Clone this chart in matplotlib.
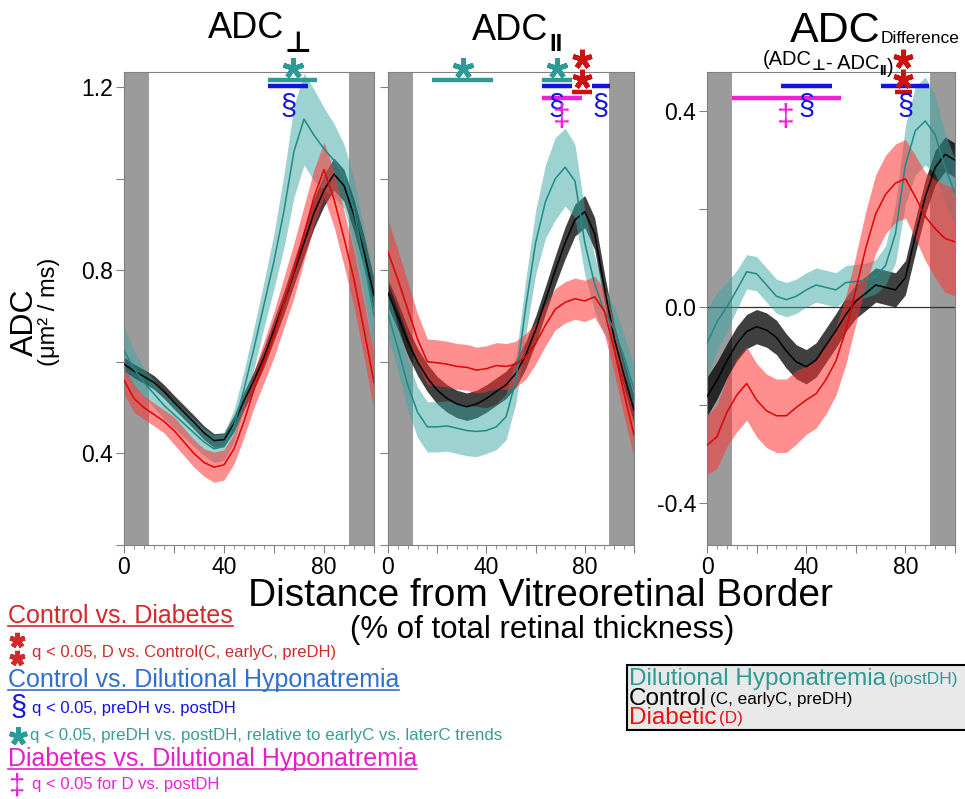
import numpy as np
import matplotlib.pyplot as plt
from matplotlib.ticker import FixedLocator, MultipleLocator, FuncFormatter
from matplotlib.transforms import blended_transform_factory
from matplotlib.lines import Line2D
from matplotlib.patches import Rectangle

plt.rcParams['font.family'] = ['Liberation Sans', 'DejaVu Sans']
plt.rcParams['axes.unicode_minus'] = False

# ---- data ----
depth = np.arange(0, 101, 4)

perp_control = [0.595, 0.580, 0.568, 0.555, 0.535, 0.512, 0.490, 0.468, 0.445, 0.428, 0.430, 0.465, 0.515,
                0.560, 0.610, 0.670, 0.730, 0.795, 0.860, 0.925, 0.975, 1.010, 0.985, 0.920, 0.840, 0.745]
perp_control_err = [0.015, 0.015, 0.015, 0.015, 0.015, 0.015, 0.015, 0.015, 0.015, 0.015, 0.015, 0.018, 0.020,
                    0.020, 0.022, 0.024, 0.025, 0.027, 0.030, 0.033, 0.035, 0.035, 0.035, 0.035, 0.035, 0.035]
perp_postdh = [0.625, 0.585, 0.555, 0.530, 0.505, 0.485, 0.465, 0.445, 0.425, 0.410, 0.415, 0.460, 0.540,
               0.630, 0.725, 0.820, 0.930, 1.060, 1.130, 1.095, 1.065, 1.040, 1.005, 0.930, 0.820, 0.700]
perp_postdh_err = [0.050, 0.040, 0.030, 0.030, 0.030, 0.030, 0.030, 0.030, 0.030, 0.030, 0.030, 0.035, 0.040,
                   0.045, 0.050, 0.060, 0.080, 0.100, 0.100, 0.100, 0.090, 0.080, 0.070, 0.070, 0.070, 0.080]
perp_diab = [0.560, 0.520, 0.500, 0.485, 0.470, 0.450, 0.425, 0.400, 0.380, 0.370, 0.375, 0.410, 0.470,
             0.540, 0.600, 0.660, 0.730, 0.800, 0.880, 0.960, 1.020, 0.955, 0.870, 0.780, 0.670, 0.555]
perp_diab_err = [0.030, 0.030, 0.025, 0.025, 0.025, 0.030, 0.030, 0.030, 0.030, 0.033, 0.033, 0.033, 0.035,
                 0.040, 0.045, 0.050, 0.055, 0.060, 0.060, 0.060, 0.060, 0.060, 0.060, 0.060, 0.060, 0.060]

par_control = [0.750, 0.700, 0.645, 0.600, 0.565, 0.538, 0.520, 0.508, 0.502, 0.508, 0.520, 0.535, 0.550,
               0.575, 0.615, 0.670, 0.735, 0.800, 0.860, 0.910, 0.928, 0.880, 0.760, 0.650, 0.570, 0.495]
par_control_err = [0.030, 0.030, 0.030, 0.030, 0.030, 0.030, 0.030, 0.030, 0.030, 0.030, 0.030, 0.030, 0.030,
                   0.030, 0.030, 0.030, 0.030, 0.032, 0.035, 0.035, 0.035, 0.035, 0.032, 0.030, 0.030, 0.030]
par_postdh = [0.705, 0.630, 0.550, 0.490, 0.458, 0.458, 0.460, 0.455, 0.450, 0.448, 0.450, 0.458, 0.480,
              0.560, 0.720, 0.860, 0.950, 1.000, 1.025, 0.995, 0.860, 0.770, 0.710, 0.670, 0.610, 0.540]
par_postdh_err = [0.050, 0.050, 0.055, 0.055, 0.055, 0.055, 0.055, 0.055, 0.055, 0.055, 0.050, 0.050, 0.050,
                  0.050, 0.060, 0.070, 0.080, 0.090, 0.085, 0.080, 0.070, 0.060, 0.050, 0.050, 0.050, 0.050]
par_diab = [0.840, 0.780, 0.715, 0.650, 0.600, 0.598, 0.595, 0.590, 0.588, 0.582, 0.585, 0.592, 0.590,
            0.595, 0.612, 0.640, 0.680, 0.715, 0.730, 0.738, 0.733, 0.742, 0.710, 0.625, 0.530, 0.440]
par_diab_err = [0.070, 0.065, 0.060, 0.055, 0.050, 0.050, 0.050, 0.050, 0.050, 0.050, 0.050, 0.050, 0.050,
                0.050, 0.050, 0.045, 0.045, 0.045, 0.045, 0.045, 0.045, 0.045, 0.050, 0.050, 0.050, 0.050]

diff_control = [-0.183, -0.150, -0.110, -0.075, -0.050, -0.040, -0.047, -0.062, -0.090, -0.112, -0.122, -0.108, -0.078,
                -0.048, -0.015, 0.012, 0.028, 0.045, 0.040, 0.035, 0.060, 0.145, 0.225, 0.285, 0.312, 0.300]
diff_control_err = [0.040, 0.038, 0.035, 0.035, 0.035, 0.035, 0.035, 0.035, 0.035, 0.035, 0.035, 0.035, 0.035,
                    0.035, 0.035, 0.035, 0.035, 0.035, 0.035, 0.035, 0.035, 0.035, 0.035, 0.035, 0.035, 0.035]
diff_postdh = [-0.075, -0.030, 0.000, 0.035, 0.072, 0.068, 0.045, 0.022, 0.015, 0.022, 0.035, 0.045, 0.040,
               0.035, 0.050, 0.052, 0.055, 0.062, 0.085, 0.150, 0.290, 0.360, 0.380, 0.352, 0.285, 0.232]
diff_postdh_err = [0.070, 0.060, 0.050, 0.040, 0.035, 0.035, 0.035, 0.035, 0.035, 0.035, 0.035, 0.035, 0.035,
                   0.035, 0.035, 0.035, 0.035, 0.035, 0.040, 0.060, 0.080, 0.090, 0.090, 0.080, 0.070, 0.070]
diff_diab = [-0.282, -0.265, -0.215, -0.180, -0.156, -0.190, -0.212, -0.222, -0.222, -0.205, -0.190, -0.177, -0.148,
             -0.110, -0.047, 0.035, 0.120, 0.190, 0.230, 0.253, 0.262, 0.225, 0.185, 0.160, 0.140, 0.133]
diff_diab_err = [0.060, 0.065, 0.070, 0.075, 0.075, 0.075, 0.075, 0.075, 0.075, 0.075, 0.070, 0.070, 0.070,
                 0.070, 0.070, 0.070, 0.075, 0.080, 0.080, 0.080, 0.080, 0.085, 0.090, 0.100, 0.110, 0.110]

# significance intervals (x ranges, % depth)
perp_sig_teal = [(57.6, 77.2)]
perp_sig_blue = [(57.6, 73.6)]
par_sig_teal = [(17.8, 42.8), (62.5, 74.7)]
par_sig_blue = [(62.5, 74.7), (82.8, 90.2)]
par_sig_red = [(74.7, 82.8)]
par_sig_mag = [(62.5, 78.7)]
diff_sig_teal = []
diff_sig_blue = [(29.7, 50.3), (70.0, 89.7)]
diff_sig_red = [(75.8, 82.5)]
diff_sig_mag = [(10.0, 53.9)]

TEAL = '#1f8a88'
TEAL_FILL = '#3aa6a3'
RED = '#e00000'
RED_FILL = '#ff3333'
SIG_TEAL = '#2e9a96'
SIG_BLUE = '#1414e0'
SIG_RED = '#cc1111'
SIG_MAG = '#f21fd8'

W, H = 965, 799
fig = plt.figure(figsize=(W / 100, H / 100), dpi=100)


def fx(px):
    return px / W


def fy(py):
    return 1 - py / H


ax1 = fig.add_axes([fx(124), fy(545), fx(374) - fx(124), fy(72) - fy(545)])
ax2 = fig.add_axes([fx(388), fy(545), fx(634) - fx(388), fy(72) - fy(545)])
ax3 = fig.add_axes([fx(707), fy(545), fx(955) - fx(707), fy(72) - fy(545)])
over = fig.add_axes([0, 0, 1, 1], zorder=10)
over.set_axis_off()
over.set_xlim(0, 1)
over.set_ylim(0, 1)


def draw_panel(ax, ctl, ctl_e, post, post_e, dia, dia_e, ylim, ylabels):
    ax.axvspan(0, 10, color='#9b9b9b', lw=0, zorder=0)
    ax.axvspan(90, 100, color='#9b9b9b', lw=0, zorder=0)
    for m, e, lc, fc, a in [(ctl, ctl_e, 'black', 'black', 0.75),
                            (post, post_e, TEAL, TEAL_FILL, 0.5),
                            (dia, dia_e, RED, RED_FILL, 0.55)]:
        m = np.array(m)
        e = np.array(e)
        ax.fill_between(depth, m - e, m + e, color=fc, alpha=a, lw=0, zorder=2)
        ax.plot(depth, m, color=lc, lw=1.1, zorder=3)
    ax.set_xlim(0, 100)
    ax.set_ylim(*ylim)
    ax.xaxis.set_major_locator(FixedLocator([0, 20, 40, 60, 80, 100]))
    ax.xaxis.set_minor_locator(MultipleLocator(4))
    ax.xaxis.set_major_formatter(FuncFormatter(lambda v, p: '%d' % v if v in (0, 40, 80) else ''))
    ax.yaxis.set_major_locator(MultipleLocator(0.2))
    ax.yaxis.set_major_formatter(FuncFormatter(
        lambda v, p: ('%.1f' % v) if any(abs(v - t) < 1e-6 for t in ylabels) else ''))
    for s in ax.spines.values():
        s.set_color('#808080')
    ax.tick_params(which='both', color='#808080', labelsize=16.5, pad=2)
    ax.tick_params(which='major', length=6)
    ax.tick_params(which='minor', length=3)


draw_panel(ax1, perp_control, perp_control_err, perp_postdh, perp_postdh_err, perp_diab, perp_diab_err,
           (0.2, 1.233), [0.4, 0.8, 1.2])
draw_panel(ax2, par_control, par_control_err, par_postdh, par_postdh_err, par_diab, par_diab_err,
           (0.2, 1.233), [])
draw_panel(ax3, diff_control, diff_control_err, diff_postdh, diff_postdh_err, diff_diab, diff_diab_err,
           (-0.486, 0.48), [-0.4, 0.0, 0.4])
ax3.axhline(0, color='#333333', lw=0.9, zorder=1)


def star(ax, x, y, color, ms, tr):
    ax.plot([x], [y], marker=(5, 2, 0), ms=ms, mew=3.5, color=color, transform=tr, clip_on=False, zorder=6)


def draw_sig(ax, teal, blue, red, mag):
    tr = blended_transform_factory(ax.transData, ax.transAxes)
    for x0, x1 in teal:
        ax.plot([x0, x1], [0.983, 0.983], color=SIG_TEAL, lw=3.2, transform=tr, clip_on=False,
                solid_capstyle='butt', zorder=5)
        star(ax, (x0 + x1) / 2, 1.008, SIG_TEAL, 15, tr)
    for x0, x1 in blue:
        ax.plot([x0, x1], [0.970, 0.970], color=SIG_BLUE, lw=3.2, transform=tr, clip_on=False,
                solid_capstyle='butt', zorder=5)
        ax.text((x0 + x1) / 2, 0.926, '§', color=SIG_BLUE, fontsize=21, ha='center', va='center',
                transform=tr, zorder=6)
    for x0, x1 in red:
        ax.plot([x0, x1], [0.958, 0.958], color=SIG_RED, lw=3.2, transform=tr, clip_on=False,
                solid_capstyle='butt', zorder=5)
        star(ax, (x0 + x1) / 2, 1.027, SIG_RED, 14, tr)
        star(ax, (x0 + x1) / 2, 0.985, SIG_RED, 14, tr)
    for x0, x1 in mag:
        ax.plot([x0, x1], [0.946, 0.946], color=SIG_MAG, lw=3.2, transform=tr, clip_on=False,
                solid_capstyle='butt', zorder=5)
        ax.text((x0 + x1) / 2, 0.903, '‡', color=SIG_MAG, fontsize=23, ha='center', va='center',
                transform=tr, zorder=6)


draw_sig(ax1, perp_sig_teal, perp_sig_blue, [], [])
draw_sig(ax2, par_sig_teal, par_sig_blue, par_sig_red, par_sig_mag)
draw_sig(ax3, diff_sig_teal, diff_sig_blue, diff_sig_red, diff_sig_mag)


def chain(x, y, pieces):
    # pieces: (text, size, color, weight, dx, dy) placed left to right
    s, size, color, weight, dx, dy = pieces[0]
    prev = over.text(x, y, s, fontsize=size, color=color, fontweight=weight, ha='left', va='baseline')
    first = prev
    for s, size, color, weight, dx, dy in pieces[1:]:
        prev = over.annotate(s, xy=(1, 0), xycoords=prev, xytext=(dx, dy), textcoords='offset points',
                             fontsize=size, color=color, fontweight=weight, ha='left', va='baseline')
    return first


# titles
chain(fx(208), fy(38), [('ADC', 26, 'black', 'normal', 0, 0), ('⊥', 21, 'black', 'bold', 0, -4)])
chain(fx(472), fy(40), [('ADC', 26, 'black', 'normal', 0, 0), ('II', 17, 'black', 'bold', 1, -2)])
chain(fx(790), fy(42), [('ADC', 31, 'black', 'normal', 0, 0), ('Difference', 12.5, 'black', 'normal', 0, 6)])
chain(fx(763), fy(65), [('(ADC', 14.5, 'black', 'normal', 0, 0), ('⊥', 11, 'black', 'bold', 0, -1),
                        ('- ADC', 14.5, 'black', 'normal', 0, 3), ('II', 10, 'black', 'bold', 0, -1),
                        (')', 14.5, 'black', 'normal', 0, 3)])

# axis labels
over.text(fx(25), fy(322), 'ADC', fontsize=23, rotation=90, ha='center', va='center')
over.text(fx(49), fy(312), '(μm² / ms)', fontsize=17, rotation=90, ha='center', va='center')
over.text(fx(540), fy(596), 'Distance from Vitreoretinal Border', fontsize=28, ha='center', va='center')
over.text(fx(542), fy(630), '(% of total retinal thickness)', fontsize=22.5, ha='center', va='center')

# significance key (bottom left)
headers = [
    (fx(8), fy(623), 'Control vs. Diabetes', '#d22a2a'),
    (fx(8), fy(687), 'Control vs. Dilutional Hyponatremia', '#2f6fce'),
    (fx(8), fy(766), 'Diabetes vs. Dilutional Hyponatremia', '#e61ec8'),
]
header_texts = []
for x, y, s, c in headers:
    header_texts.append((over.text(x, y, s, fontsize=18, color=c, ha='left', va='baseline'), y, c))

star(over, fx(17), fy(640), '#d22a2a', 11, over.transAxes)
star(over, fx(17), fy(658), '#d22a2a', 11, over.transAxes)
over.text(fx(32), fy(657), 'q < 0.05, D vs. Control(C, earlyC, preDH)', fontsize=12, color='#d22a2a',
          ha='left', va='baseline')
over.text(fx(18), fy(708), '§', fontsize=21, color=SIG_BLUE, ha='center', va='center')
over.text(fx(32), fy(713), 'q < 0.05, preDH vs. postDH', fontsize=12, color=SIG_BLUE, ha='left', va='baseline')
star(over, fx(18), fy(736), SIG_TEAL, 13, over.transAxes)
over.text(fx(30), fy(740), 'q < 0.05, preDH vs. postDH, relative to earlyC vs. laterC trends', fontsize=12.2,
          color='#3a9b95', ha='left', va='baseline')
over.text(fx(17), fy(786), '‡', fontsize=21, color=SIG_MAG, ha='center', va='center')
over.text(fx(32), fy(789), 'q < 0.05 for D vs. postDH', fontsize=12, color=SIG_MAG, ha='left', va='baseline')

# group legend (bottom right)
over.add_patch(Rectangle((fx(627), fy(730)), 1.02 - fx(627), fy(665) - fy(730), facecolor='#e9e9e9',
                         edgecolor='black', lw=1.5))
chain(fx(629), fy(685), [('Dilutional Hyponatremia', 17.5, '#2e9a96', 'normal', 0, 0),
                         ('(postDH)', 12.5, '#2e9a96', 'normal', 2, 4)])
chain(fx(629), fy(705), [('Control', 17.5, 'black', 'normal', 0, 0),
                         ('(C, earlyC, preDH)', 12.3, 'black', 'normal', 2, 4)])
chain(fx(629), fy(724), [('Diabetic', 17.5, '#ee1111', 'normal', 0, 0),
                         ('(D)', 12.3, '#ee1111', 'normal', 2, 4)])

# underline the key headers
fig.canvas.draw()
r = fig.canvas.get_renderer()
for t, y, c in header_texts:
    bb = t.get_window_extent(r).transformed(fig.transFigure.inverted())
    over.add_line(Line2D([bb.x0, bb.x1], [y - 3 / H, y - 3 / H], color=c, lw=1.2))

fig.savefig('out.png', dpi=100)
